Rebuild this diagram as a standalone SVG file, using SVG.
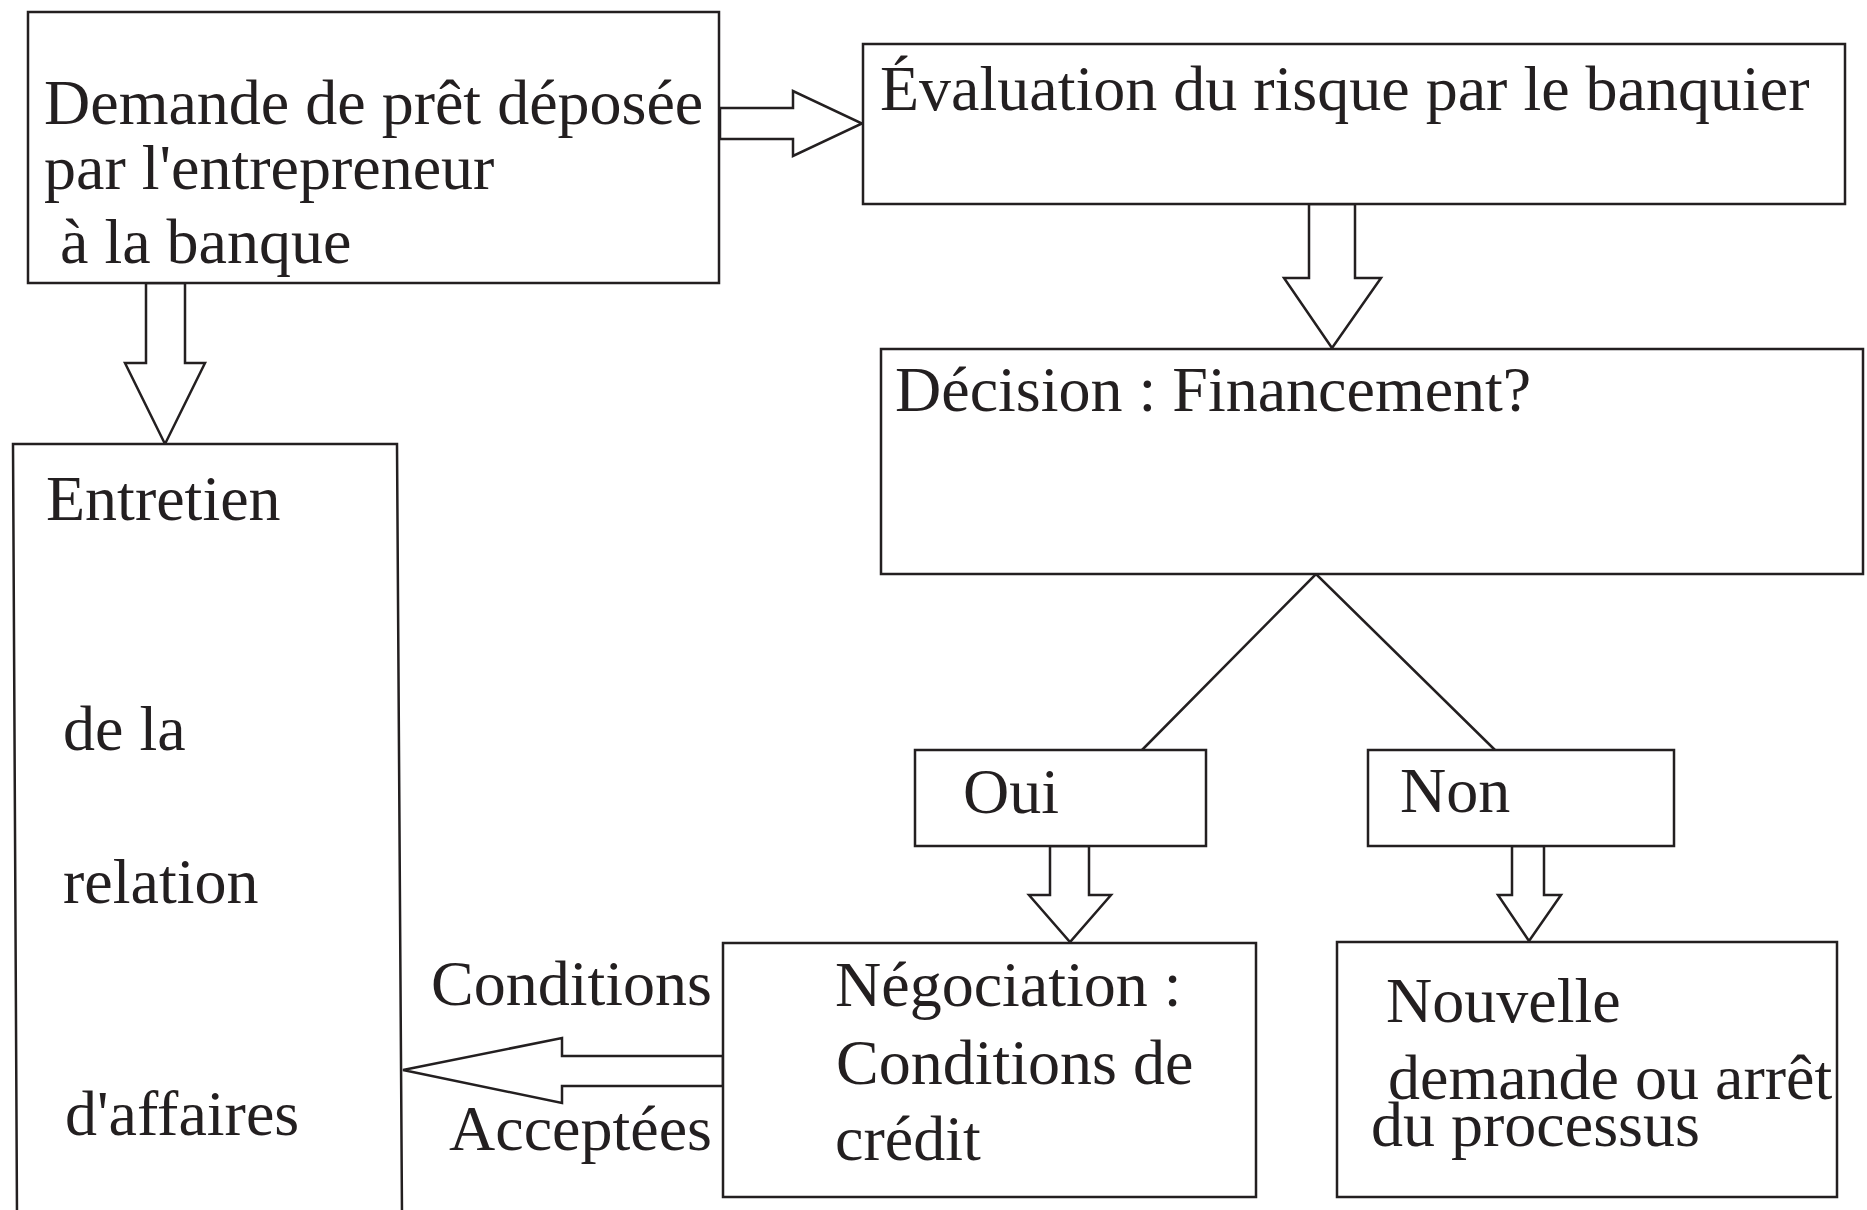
<svg xmlns="http://www.w3.org/2000/svg" width="1867" height="1210" viewBox="0 0 1867 1210">
<style>
.box{fill:#fff;stroke:#231f20;stroke-width:2.5}
.arr{fill:#fff;stroke:#231f20;stroke-width:2.5;stroke-linejoin:miter}
.ln{fill:none;stroke:#231f20;stroke-width:2.5}
text{font-family:"Liberation Serif","Times New Roman",serif;font-size:64px;fill:#231f20}
</style>
<rect width="1867" height="1210" fill="#fff"/>
<g id="connectors">
<polygon class="arr" points="720,108 793,108 793,91 862,123.5 793,156 793,139 720,139"/>
<polygon class="arr" points="146,283 146,363 125,363 165,444 205,363 185,363 185,283"/>
<polygon class="arr" points="1309,204 1309,278 1284,278 1332,348 1381,278 1355,278 1355,204"/>
<polyline class="ln" points="1142,750 1316,574 1495,750"/>
<polygon class="arr" points="1050,846 1050,895 1029,895 1070,942 1111,895 1089,895 1089,846"/>
<polygon class="arr" points="1512,846 1512,895 1498,895 1529,941 1561,895 1544,895 1544,846"/>
<polygon class="arr" points="723,1056 562,1056 562,1038 403,1070 562,1103 562,1086 723,1086"/>
</g>
<g id="demande">
<rect class="box" x="28" y="12" width="691" height="271"/>
<text x="44" y="124">Demande de prêt déposée</text>
<text x="44" y="189">par l'entrepreneur</text>
<text x="60" y="263">à la banque</text>
</g>
<g id="evaluation">
<rect class="box" x="863" y="44" width="982" height="160"/>
<text x="880" y="110">Évaluation du risque par le banquier</text>
</g>
<g id="decision">
<rect class="box" x="881" y="349" width="982" height="225"/>
<text x="895" y="411">Décision : Financement?</text>
</g>
<g id="entretien">
<polygon class="box" points="13,444 397,444 402,1215 17,1215"/>
<text x="46" y="520">Entretien</text>
<text x="63" y="750">de la</text>
<text x="63" y="903">relation</text>
<text x="65" y="1135">d'affaires</text>
</g>
<g id="oui">
<rect class="box" x="915" y="750" width="291" height="96"/>
<text x="963" y="813">Oui</text>
</g>
<g id="non">
<rect class="box" x="1368" y="750" width="306" height="96"/>
<text x="1400" y="812">Non</text>
</g>
<g id="negociation">
<rect class="box" x="723" y="943" width="533" height="254"/>
<text x="835" y="1006">Négociation :</text>
<text x="836" y="1084">Conditions de</text>
<text x="835" y="1160">crédit</text>
</g>
<g id="nouvelle">
<rect class="box" x="1337" y="942" width="500" height="255"/>
<text x="1386" y="1022">Nouvelle</text>
<text x="1388" y="1099">demande ou arrêt</text>
<text x="1371" y="1146">du processus</text>
</g>
<g id="labels">
<text x="712" y="1005" text-anchor="end">Conditions</text>
<text x="712" y="1150" text-anchor="end">Acceptées</text>
</g>
</svg>
